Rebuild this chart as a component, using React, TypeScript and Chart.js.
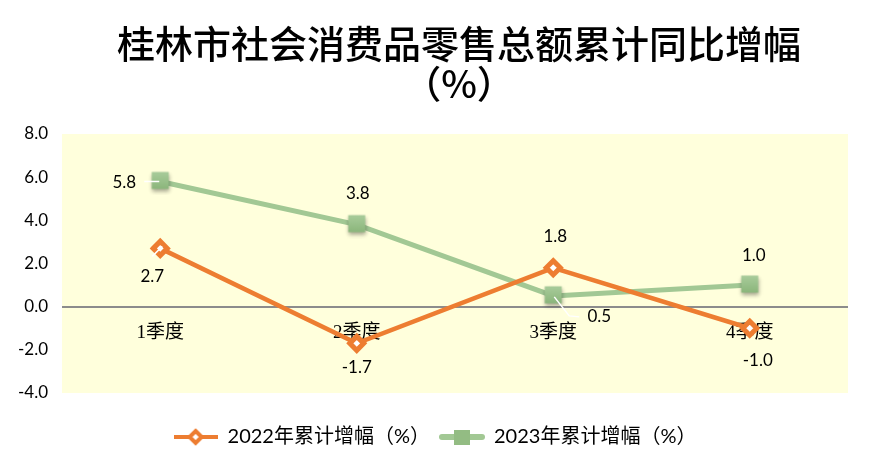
import { useEffect, useRef } from "react";
import { Chart, registerables } from "chart.js";

Chart.register(...registerables);

const titleLines = ["桂林市社会消费品零售总额累计同比增幅", "（%）"];
const categories = ["1季度", "2季度", "3季度", "4季度"];
const seriesLabels = ["2022年累计增幅（%）", "2023年累计增幅（%）"];
const values2022 = [2.7, -1.7, 1.8, -1.0];
const values2023 = [5.8, 3.8, 0.5, 1.0];
const yMin = -4;
const yMax = 8;
const yStep = 2;

const ORANGE = "#ED7D31";
const GREEN_LINE = "#A2C894";
const GREEN_MARK = "#93BC83";
const PLOT_BG = "#FFFFDC";
const NUM_FONT = "Lato, 'Noto Sans CJK SC', sans-serif";
const CAT_FONT = "'Liberation Serif', 'Noto Sans CJK SC', serif";
const TITLE_FONT = "'Noto Sans CJK SC', sans-serif";

// label placement relative to each point (style only)
const labelOffsets: number[][][] = [
  [[-8, 28], [0, 24], [2, -31], [8, 32]],
  [[-36, 1], [1, -31], [46, 21], [4, -30]],
];
// white leader lines relative to each point: [x1,y1,x2,y2,...] or null
const leaders: (number[] | null)[][] = [
  [[2, -2, -8, 8], null, null, null],
  [[-1, 0, -16, 0], null, [1, 1, 16, 20, 26, 21], null],
];

function makeSquare(): HTMLCanvasElement {
  const c = document.createElement("canvas");
  c.width = 28;
  c.height = 28;
  const ctx = c.getContext("2d")!;
  ctx.shadowColor = "rgba(0,0,0,0.35)";
  ctx.shadowBlur = 4;
  ctx.shadowOffsetY = 2;
  const g = ctx.createLinearGradient(0, 6, 0, 22);
  g.addColorStop(0, "#A6CA98");
  g.addColorStop(1, "#8AB57A");
  ctx.fillStyle = g;
  ctx.fillRect(5.5, 4.5, 17, 17);
  return c;
}

function makeLegendOrange(): HTMLCanvasElement {
  const c = document.createElement("canvas");
  c.width = 44;
  c.height = 22;
  const ctx = c.getContext("2d")!;
  ctx.strokeStyle = ORANGE;
  ctx.lineWidth = 4;
  ctx.beginPath();
  ctx.moveTo(0, 11);
  ctx.lineTo(44, 11);
  ctx.stroke();
  ctx.beginPath();
  ctx.moveTo(22, 5);
  ctx.lineTo(28, 11);
  ctx.lineTo(22, 17);
  ctx.lineTo(16, 11);
  ctx.closePath();
  ctx.fillStyle = "#fff";
  ctx.fill();
  ctx.stroke();
  return c;
}

function makeLegendGreen(): HTMLCanvasElement {
  const c = document.createElement("canvas");
  c.width = 46;
  c.height = 22;
  const ctx = c.getContext("2d")!;
  ctx.strokeStyle = GREEN_LINE;
  ctx.lineWidth = 6;
  ctx.lineCap = "round";
  ctx.beginPath();
  ctx.moveTo(3, 11);
  ctx.lineTo(43, 11);
  ctx.stroke();
  ctx.fillStyle = GREEN_MARK;
  ctx.fillRect(15, 4, 16, 15);
  return c;
}

const bgPlugin = {
  id: "plotBg",
  beforeDraw(chart: any) {
    const { ctx, chartArea: a } = chart;
    ctx.save();
    ctx.fillStyle = PLOT_BG;
    ctx.fillRect(a.left, a.top, a.right - a.left, a.bottom - a.top);
    ctx.restore();
  },
};

const titlePlugin = {
  id: "bigTitle",
  afterDraw(chart: any) {
    const { ctx, chartArea: a } = chart;
    const cx = (a.left + a.right) / 2 + 4;
    ctx.save();
    ctx.fillStyle = "#000";
    ctx.textAlign = "center";
    ctx.textBaseline = "middle";
    ctx.font = `500 38px ${TITLE_FONT}`;
    ctx.fillText(titleLines[0], cx, 44);
    ctx.fillText(titleLines[1], cx, 84);
    ctx.restore();
  },
};

const catLabelPlugin = {
  id: "catLabels",
  beforeDatasetsDraw(chart: any) {
    const { ctx } = chart;
    const xs = chart.scales.x;
    const ys = chart.scales.y;
    const y0 = ys.getPixelForValue(0);
    ctx.save();
    ctx.fillStyle = "#000";
    ctx.textAlign = "center";
    ctx.textBaseline = "middle";
    ctx.font = `19px ${CAT_FONT}`;
    categories.forEach((c, i) => {
      ctx.fillText(c, xs.getPixelForValue(i), y0 + 26);
    });
    ctx.restore();
  },
};

const dataLabelPlugin = {
  id: "dataLabels",
  afterDatasetsDraw(chart: any) {
    const { ctx } = chart;
    ctx.save();
    chart.data.datasets.forEach((ds: any, di: number) => {
      const meta = chart.getDatasetMeta(di);
      meta.data.forEach((pt: any, i: number) => {
        const ld = leaders[di][i];
        if (ld) {
          ctx.strokeStyle = "#fff";
          ctx.lineWidth = 1.5;
          ctx.beginPath();
          ctx.moveTo(pt.x + ld[0], pt.y + ld[1]);
          for (let k = 2; k < ld.length; k += 2) ctx.lineTo(pt.x + ld[k], pt.y + ld[k + 1]);
          ctx.stroke();
        }
        const [dx, dy] = labelOffsets[di][i];
        ctx.fillStyle = "#000";
        ctx.textAlign = "center";
        ctx.textBaseline = "middle";
        ctx.font = `17px ${NUM_FONT}`;
        ctx.fillText(Number(ds.data[i]).toFixed(1), pt.x + dx, pt.y + dy);
      });
    });
    ctx.restore();
  },
};

export default function App() {
  const ref = useRef<HTMLCanvasElement | null>(null);

  useEffect(() => {
    if (!ref.current) return;
    const square = makeSquare();
    const legendIcons = [makeLegendOrange(), makeLegendGreen()];
    const chart = new Chart(ref.current, {
      type: "line",
      data: {
        labels: categories,
        datasets: [
          {
            label: seriesLabels[0],
            data: values2022,
            borderColor: ORANGE,
            backgroundColor: "#FFFFFF",
            borderWidth: 4.5,
            pointStyle: "rectRot",
            pointRadius: 7,
            pointBorderWidth: 5,
            pointBorderColor: ORANGE,
            pointBackgroundColor: "#FFFFFF",
            tension: 0,
          },
          {
            label: seriesLabels[1],
            data: values2023,
            borderColor: GREEN_LINE,
            backgroundColor: GREEN_MARK,
            borderWidth: 5,
            pointStyle: square as any,
            pointRadius: 8,
            tension: 0,
          },
        ],
      },
      options: {
        responsive: false,
        animation: false,
        devicePixelRatio: 1,
        layout: { padding: { top: 134, right: 0, bottom: 11, left: 0 } },
        scales: {
          x: {
            type: "category",
            offset: true,
            display: true,
            grid: { display: false, drawTicks: false },
            border: { display: false },
            ticks: { display: false },
            afterFit(s: any) {
              s.height = 24;
            },
          },
          y: {
            min: yMin,
            max: yMax,
            ticks: {
              stepSize: yStep,
              padding: 14,
              color: "#000",
              font: { size: 17, family: NUM_FONT },
              callback: (v: any) => Number(v).toFixed(1),
            },
            grid: {
              drawTicks: false,
              tickLength: 0,
              color: (c: any) => (c.tick && c.tick.value === 0 ? "#8C8C8C" : "rgba(0,0,0,0)"),
              lineWidth: (c: any) => (c.tick && c.tick.value === 0 ? 2 : 0),
            },
            border: { display: false },
            afterFit(s: any) {
              s.width = 62;
            },
          },
          yRight: {
            type: "linear",
            position: "right",
            display: true,
            min: yMin,
            max: yMax,
            grid: { display: false, drawTicks: false },
            border: { display: false },
            ticks: { display: false },
            afterFit(s: any) {
              s.width = 22;
            },
          },
        },
        plugins: {
          title: { display: false },
          tooltip: { enabled: false },
          legend: {
            display: true,
            position: "bottom",
            labels: {
              usePointStyle: true,
              pointStyleWidth: 44,
              padding: 10,
              color: "#000",
              font: { size: 20, family: NUM_FONT },
              generateLabels(ch: any) {
                const items = (Chart.defaults.plugins.legend.labels as any).generateLabels(ch);
                items.forEach((it: any) => {
                  it.pointStyle = legendIcons[it.datasetIndex];
                });
                return items;
              },
            },
          },
        },
      },
      plugins: [bgPlugin, titlePlugin, catLabelPlugin, dataLabelPlugin],
    });
    return () => chart.destroy();
  }, []);

  return (
    <div style={{ position: "fixed", left: 0, top: 0, width: 870, height: 468, background: "#fff" }}>
      <canvas ref={ref} width={870} height={468} />
    </div>
  );
}
